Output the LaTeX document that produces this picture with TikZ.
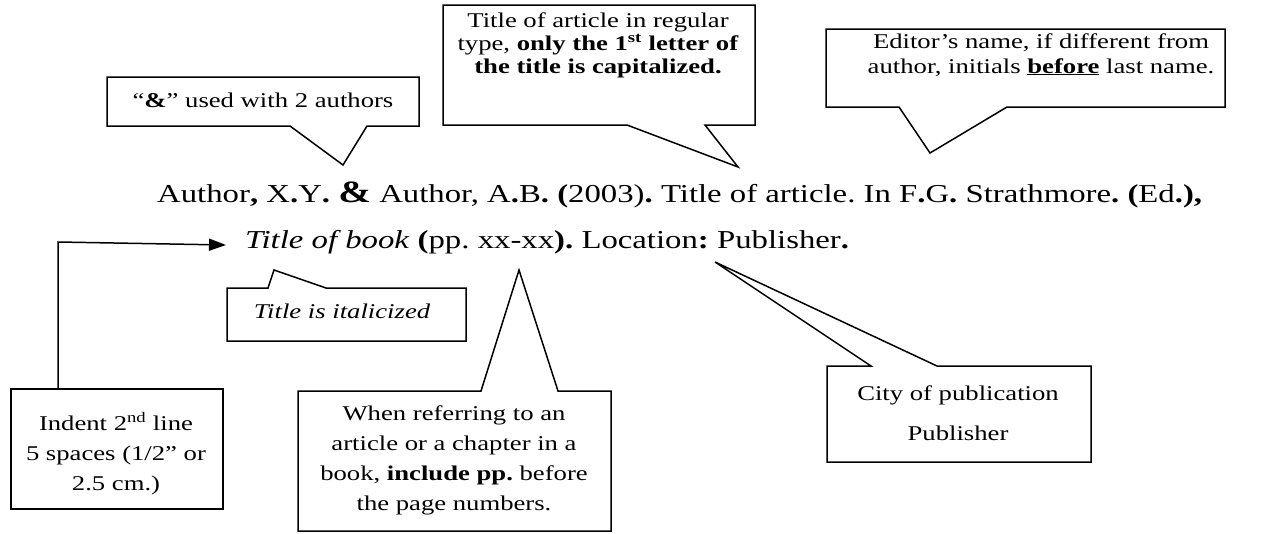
\documentclass[tikz,border=0pt]{standalone}
\usepackage{fontspec}
\setmainfont{Liberation Serif}[FakeStretch=1.27]
\usetikzlibrary{arrows.meta}
\frenchspacing
\begin{document}
\begin{tikzpicture}[x=1pt,y=-1pt,
  outline/.style={draw=black,line width=1.5pt,fill=white,line join=miter},
  note/.style={inner sep=0pt,anchor=base,font=\fontsize{21}{25}\selectfont},
  refline/.style={anchor=base west,inner sep=0pt,font=\fontsize{25.8}{30}\selectfont}]
\useasboundingbox (0,0) rectangle (1261,533);

% ---- callout: ampersand ----
\draw[outline] (107,77) -- (419,77) -- (419,126) -- (367,126) -- (343,165) coordinate (tipA) -- (290,126) -- (107,126) -- cycle;
\node[note] (amp) at (263,107) {“\textbf{\&}” used with 2 authors};

% ---- callout: article title ----
\draw[outline] (443,5) -- (755,5) -- (755,125) -- (705,125) -- (738,167) coordinate (tipB) -- (627,125) -- (443,125) -- cycle;
\node[note] (title1) at (598,27) {Title of article in regular};
\node[note] (title2) at (598,50) {type, \textbf{only the 1\textsuperscript{st} letter of}};
\node[note] (title3) at (598,73) {\textbf{the title is capitalized.}};

% ---- callout: editor ----
\draw[outline] (826,29) -- (1225,29) -- (1225,107) -- (1007,107) -- (930,153) coordinate (tipC) -- (899,107) -- (826,107) -- cycle;
\node[note] (editor1) at (1041,48) {Editor’s name, if different from};
\node[note] (editor2) at (1041,73) {author, initials \underline{\textbf{before}} last name.};

% ---- reference entry ----
\node[refline] (line1) at (157,202) {Author\textbf{,} X\textbf{.}Y\textbf{.} {\fontsize{31}{30}\selectfont\textbf{\&}} Author, A\textbf{.}B\textbf{.} \textbf{(}2003)\textbf{.} Title of article. In F\textbf{.}G\textbf{.} Strathmore\textbf{.} \textbf{(}Ed\textbf{.),}};
\node[refline] (line2) at (245,248) {\textit{Title of book} \textbf{(}pp. xx-xx\textbf{).} Location\textbf{:} Publisher\textbf{.}};

% ---- callout: italic title ----
\draw[outline] (227,288) -- (268,288) -- (274,270) coordinate (tipD) -- (326,288) -- (466,288) -- (466,341) -- (227,341) -- cycle;
\node[note,font=\fontsize{21}{25}\selectfont\itshape] (italic) at (342,318) {Title is italicized};

% ---- callout: pages ----
\draw[outline] (298,391) -- (481,391) -- (519,270) coordinate (tipE) -- (558,391) -- (611,391) -- (611,531) -- (298,531) -- cycle;
\node[note] (pages1) at (454,420) {When referring to an};
\node[note] (pages2) at (454,450) {article or a chapter in a};
\node[note] (pages3) at (454,480) {book, \textbf{include pp.} before};
\node[note] (pages4) at (454,510) {the page numbers.};

% ---- callout: city / publisher ----
\draw[outline] (827,366) -- (871,366) -- (715,262) coordinate (tipF) -- (937,366) -- (1091,366) -- (1091,462) -- (827,462) -- cycle;
\node[note] (city1) at (958,400) {City of publication};
\node[note] (city2) at (958,440) {Publisher};

% ---- indent box with its arrow ----
\node[draw,line width=1.5pt,minimum width=212pt,minimum height=120pt,inner sep=0pt] (indent) at (117,449) {};
\node[note] (indent1) at (116,430) {Indent 2\textsuperscript{nd} line};
\node[note] (indent2) at (116,460) {5 spaces (1/2” or};
\node[note] (indent3) at (116,490) {2.5 cm.)};
\coordinate (bend) at (58,242);
\coordinate (arrowtip) at (226,245);
\draw[line width=1.5pt,-{Triangle[length=17pt,width=12pt]}] (indent.north west -| bend) -- (bend) -- (arrowtip);
\end{tikzpicture}
\end{document}
